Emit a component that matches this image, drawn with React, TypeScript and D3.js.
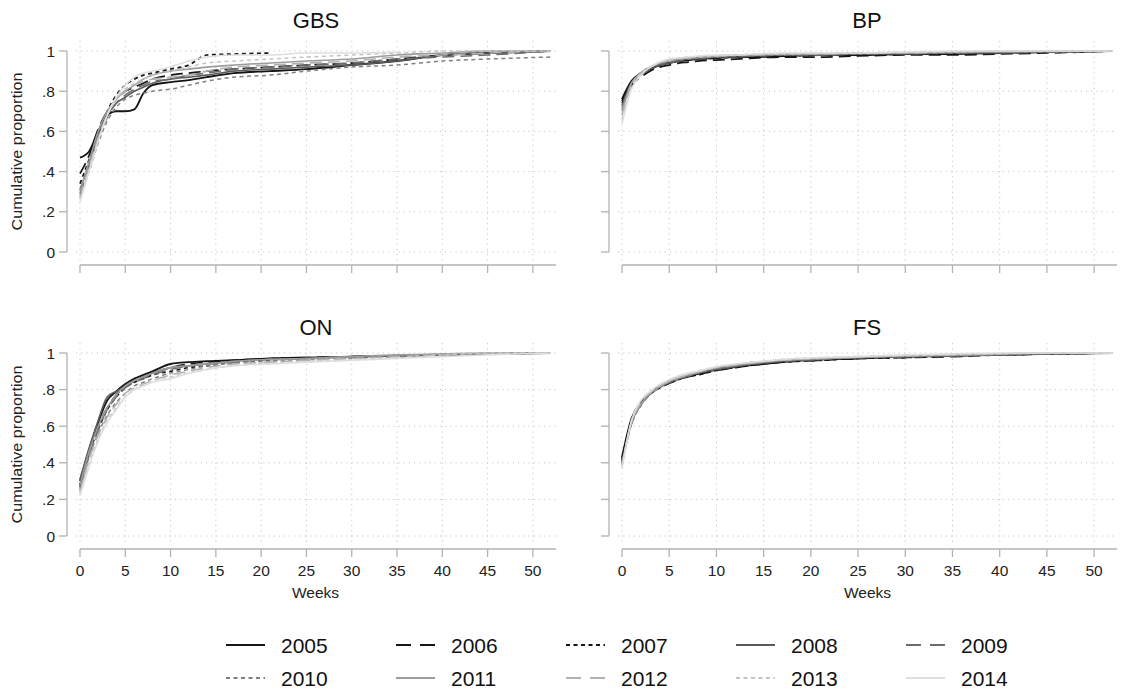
import React from "react";
import * as d3 from "d3";

// Follow-up grid (weeks) shared by every curve
const weeks = [0, 1, 2, 3, 4, 5, 6, 7, 8, 10, 12, 14, 17, 21, 25, 30, 35, 40, 45, 52];

const years = [2005, 2006, 2007, 2008, 2009, 2010, 2011, 2012, 2013, 2014];

type V = number | null;

// Cumulative proportion by week, one row per year (2005..2014)
const gbsValues: V[][] = [
  [.47, .50, .60, .68, .70, .70, .71, .79, .83, .845, .855, .87, .89, .90, .91, .93, .95, .98, .99, 1.0],
  [.39, .48, .61, .70, .76, .80, .82, .84, .86, .88, .89, .90, .91, .92, .93, .94, .96, .98, .99, 1.0],
  [.34, .46, .59, .70, .78, .83, .86, .88, .89, .91, .93, .98, .985, .99, null, null, null, null, null, null],
  [.31, .44, .58, .68, .74, .77, .80, .82, .84, .86, .87, .88, .90, .91, .92, .93, .95, .98, .99, 1.0],
  [.29, .42, .56, .67, .74, .78, .81, .83, .85, .86, .88, .89, .91, .92, .93, .94, .96, .97, .98, 1.0],
  [.28, .40, .54, .65, .72, .76, .78, .79, .80, .81, .83, .85, .87, .88, .90, .92, .93, .95, .96, .97],
  [.30, .45, .60, .70, .76, .80, .83, .86, .88, .90, .91, .92, .93, .94, .95, .96, .98, .99, 1.0, 1.0],
  [.27, .42, .57, .68, .76, .80, .83, .85, .86, .87, .88, .90, .92, .93, .94, .95, .97, .98, .99, 1.0],
  [.26, .41, .56, .68, .76, .81, .84, .86, .88, .90, .92, .94, .95, .96, .97, .98, .99, 1.0, 1.0, 1.0],
  [.25, .40, .55, .68, .77, .83, .87, .89, .90, .92, .95, .97, .98, .98, .99, .99, .995, null, null, null],
];

const bpValues: V[][] = [
  [.76, .85, .89, .91, .93, .94, .95, .955, .96, .965, .97, .97, .975, .98, .98, .985, .985, .99, .995, 1.0],
  [.74, .83, .87, .90, .92, .93, .94, .945, .95, .955, .96, .965, .97, .97, .975, .98, .98, .985, .99, 1.0],
  [.75, .84, .89, .91, .93, .945, .95, .955, .96, .965, .97, .975, .975, .98, .98, .985, .99, .99, .995, 1.0],
  [.73, .84, .88, .91, .93, .94, .95, .96, .96, .97, .97, .975, .98, .98, .985, .985, .99, .99, .995, 1.0],
  [.72, .84, .89, .92, .935, .945, .955, .96, .965, .97, .975, .975, .98, .98, .985, .99, .99, .995, .995, 1.0],
  [.71, .83, .89, .92, .94, .95, .955, .96, .965, .97, .975, .98, .98, .985, .985, .99, .99, .995, .995, 1.0],
  [.70, .84, .89, .92, .94, .95, .96, .965, .97, .975, .98, .98, .985, .985, .99, .99, .995, .995, 1.0, 1.0],
  [.68, .83, .89, .92, .94, .955, .96, .965, .97, .975, .98, .98, .985, .985, .99, .99, .995, 1.0, 1.0, 1.0],
  [.66, .82, .89, .92, .945, .955, .965, .97, .97, .975, .98, .985, .985, .99, .99, .995, .995, 1.0, 1.0, 1.0],
  [.64, .81, .88, .92, .945, .96, .965, .97, .975, .98, .98, .985, .99, .99, .99, .995, 1.0, 1.0, 1.0, 1.0],
];

const onValues: V[][] = [
  [.30, .47, .62, .74, .79, .83, .86, .88, .90, .94, .95, .955, .96, .97, .975, .98, .985, .99, .995, 1.0],
  [.28, .46, .60, .70, .77, .82, .85, .87, .89, .92, .94, .95, .96, .97, .975, .98, .985, .99, .995, 1.0],
  [.27, .45, .58, .69, .76, .81, .84, .86, .88, .90, .92, .93, .95, .96, .97, .975, .98, .99, .995, 1.0],
  [.31, .48, .63, .76, .79, .82, .85, .87, .89, .92, .93, .94, .955, .965, .97, .98, .985, .99, .995, 1.0],
  [.26, .44, .58, .69, .76, .81, .84, .86, .88, .91, .93, .94, .95, .965, .97, .98, .985, .99, .995, 1.0],
  [.25, .43, .56, .66, .73, .78, .82, .84, .86, .89, .91, .93, .945, .955, .965, .975, .985, .99, .995, 1.0],
  [.28, .46, .60, .70, .77, .82, .85, .87, .89, .92, .93, .94, .955, .965, .97, .98, .99, .995, 1.0, 1.0],
  [.24, .42, .55, .65, .72, .78, .81, .83, .85, .88, .90, .92, .94, .95, .96, .97, .98, .99, 1.0, 1.0],
  [.23, .40, .53, .63, .70, .76, .80, .83, .85, .87, .89, .91, .93, .945, .955, .965, .975, .99, 1.0, 1.0],
  [.22, .38, .52, .62, .69, .76, .80, .82, .84, .86, .89, .91, .93, .94, .95, .96, .97, .98, .99, 1.0],
];

const fsValues: V[][] = [
  [.43, .64, .73, .785, .815, .84, .86, .875, .885, .91, .925, .935, .95, .965, .97, .98, .985, .99, .995, 1.0],
  [.42, .63, .72, .78, .81, .835, .855, .87, .88, .905, .92, .935, .95, .96, .97, .975, .98, .99, .995, 1.0],
  [.41, .62, .72, .775, .81, .835, .855, .87, .88, .905, .92, .935, .95, .96, .97, .975, .985, .99, .995, 1.0],
  [.40, .62, .72, .78, .815, .84, .86, .875, .89, .91, .925, .94, .955, .965, .975, .98, .985, .99, .995, 1.0],
  [.40, .61, .72, .78, .815, .84, .86, .875, .89, .915, .93, .94, .955, .965, .975, .98, .985, .99, .995, 1.0],
  [.39, .61, .71, .775, .81, .84, .86, .875, .89, .915, .93, .945, .96, .97, .975, .98, .985, .99, .995, 1.0],
  [.39, .62, .72, .78, .815, .845, .865, .88, .895, .92, .935, .945, .96, .97, .975, .985, .99, .995, 1.0, 1.0],
  [.38, .62, .73, .785, .82, .845, .865, .88, .895, .92, .935, .95, .96, .97, .98, .985, .99, .995, 1.0, 1.0],
  [.38, .63, .74, .79, .825, .85, .87, .885, .90, .925, .94, .95, .965, .975, .98, .985, .99, .995, 1.0, 1.0],
  [.37, .63, .74, .79, .83, .855, .875, .89, .90, .925, .94, .95, .965, .975, .98, .99, .995, 1.0, 1.0, 1.0],
];

const xTicks = [0, 5, 10, 15, 20, 25, 30, 35, 40, 45, 50];
const yTicks = [0, 0.2, 0.4, 0.6, 0.8, 1];
const yTickLabels = ["0", ".2", ".4", ".6", ".8", "1"];

// Per-year line styling
const lineColors = ["#151515", "#151515", "#151515", "#5a5a5a", "#6c6c6c", "#808080", "#9c9c9c", "#b0b0b0", "#c4c4c4", "#dedede"];
const lineDashes = ["none", "12 6", "4 3.5", "none", "12 6", "4 3.5", "none", "12 6", "4 3.5", "none"];
const lineWidths = [1.9, 1.7, 1.7, 1.6, 1.6, 1.5, 1.6, 1.6, 1.5, 1.6];

const FONT = "'Liberation Sans', Arial, Helvetica, sans-serif";
const AXIS = "#b2b2b2";
const GRID = "#c6c6c6";

type Col = { xr: [number, number]; yAxisX: number; gridL: number; gridR: number; titleX: number; yLabels: boolean };
type Row = { yr: [number, number]; xAxisY: number; gridT: number; gridB: number; titleY: number; xLabels: boolean };

const cols: Col[] = [
  { xr: [80, 551], yAxisX: 67, gridL: 76, gridR: 556, titleX: 316, yLabels: true },
  { xr: [622, 1113], yAxisX: 609, gridL: 618, gridR: 1117, titleX: 867, yLabels: false },
];
const rows: Row[] = [
  { yr: [252, 51], xAxisY: 265, gridT: 41, gridB: 261, titleY: 28, xLabels: false },
  { yr: [536, 353], xAxisY: 549, gridT: 343, gridB: 545, titleY: 335, xLabels: true },
];

function Panel({ title, values, col, row }: { title: string; values: V[][]; col: Col; row: Row }) {
  const x = d3.scaleLinear().domain([0, 52]).range(col.xr);
  const y = d3.scaleLinear().domain([0, 1]).range(row.yr);
  const line = d3
    .line<[number, V]>()
    .defined((d) => d[1] !== null)
    .x((d) => x(d[0]))
    .y((d) => y(d[1] as number))
    .curve(d3.curveMonotoneX);

  return (
    <g>
      {/* dotted grid */}
      {xTicks.map((t) => (
        <line key={"gx" + t} x1={x(t)} x2={x(t)} y1={row.gridT} y2={row.gridB} stroke={GRID} strokeWidth={1} strokeDasharray="1.2 4" />
      ))}
      {yTicks.map((t) => (
        <line key={"gy" + t} x1={col.gridL} x2={col.gridR} y1={y(t)} y2={y(t)} stroke={GRID} strokeWidth={1} strokeDasharray="1.2 4" />
      ))}

      {/* y axis */}
      <line x1={col.yAxisX} x2={col.yAxisX} y1={y(0)} y2={y(1)} stroke={AXIS} strokeWidth={1.3} />
      {yTicks.map((t, i) => (
        <g key={"ty" + t}>
          <line x1={col.yAxisX - 8} x2={col.yAxisX} y1={y(t)} y2={y(t)} stroke={AXIS} strokeWidth={1.3} />
          {col.yLabels && (
            <text x={col.yAxisX - 12} y={y(t) + 5.5} textAnchor="end" fontSize={15.5} fill="#222" fontFamily={FONT}>
              {yTickLabels[i]}
            </text>
          )}
        </g>
      ))}
      {col.yLabels && (
        <text
          transform={`translate(22,${(y(0) + y(1)) / 2}) rotate(-90)`}
          textAnchor="middle"
          fontSize={15}
          textLength={158}
          lengthAdjust="spacingAndGlyphs"
          fill="#222"
          fontFamily={FONT}
        >
          Cumulative proportion
        </text>
      )}

      {/* x axis */}
      <line x1={x(0)} x2={col.gridR} y1={row.xAxisY} y2={row.xAxisY} stroke={AXIS} strokeWidth={1.3} />
      {xTicks.map((t) => (
        <g key={"tx" + t}>
          <line x1={x(t)} x2={x(t)} y1={row.xAxisY} y2={row.xAxisY + 8} stroke={AXIS} strokeWidth={1.3} />
          {row.xLabels && (
            <text x={x(t)} y={row.xAxisY + 27} textAnchor="middle" fontSize={15.5} fill="#222" fontFamily={FONT}>
              {t}
            </text>
          )}
        </g>
      ))}
      {row.xLabels && (
        <text x={(x(0) + x(52)) / 2} y={row.xAxisY + 49} textAnchor="middle" fontSize={15.5} fill="#222" fontFamily={FONT}>
          Weeks
        </text>
      )}

      {/* title */}
      <text x={col.titleX} y={row.titleY} textAnchor="middle" fontSize={22} fill="#111" fontFamily={FONT}>
        {title}
      </text>

      {/* curves, 2005 drawn first */}
      {values.map((vals, i) => (
        <path
          key={years[i]}
          d={line(weeks.map((w, j) => [w, vals[j]] as [number, V])) || ""}
          fill="none"
          stroke={lineColors[i]}
          strokeWidth={lineWidths[i]}
          strokeDasharray={lineDashes[i]}
          strokeLinejoin="round"
        />
      ))}
    </g>
  );
}

function Legend() {
  return (
    <g>
      {years.map((yr, i) => {
        const c = i % 5;
        const r = Math.floor(i / 5);
        const tx = 281 + c * 170;
        const ly = 645 + r * 33;
        return (
          <g key={yr}>
            <line
              x1={tx - 55}
              x2={tx - 16}
              y1={ly}
              y2={ly}
              stroke={lineColors[i]}
              strokeWidth={lineWidths[i] + 0.3}
              strokeDasharray={lineDashes[i] === "12 6" ? "15 9" : lineDashes[i]}
            />
            <text x={tx} y={ly + 8} fontSize={21} fill="#111" fontFamily={FONT}>
              {yr}
            </text>
          </g>
        );
      })}
    </g>
  );
}

export default function App() {
  return (
    <svg
      width={1121}
      height={690}
      viewBox="0 0 1121 690"
      style={{ position: "absolute", left: 0, top: 0, background: "#fff" }}
    >
      <rect width={1121} height={690} fill="#fff" />
      <Panel title="GBS" values={gbsValues} col={cols[0]} row={rows[0]} />
      <Panel title="BP" values={bpValues} col={cols[1]} row={rows[0]} />
      <Panel title="ON" values={onValues} col={cols[0]} row={rows[1]} />
      <Panel title="FS" values={fsValues} col={cols[1]} row={rows[1]} />
      <Legend />
    </svg>
  );
}
